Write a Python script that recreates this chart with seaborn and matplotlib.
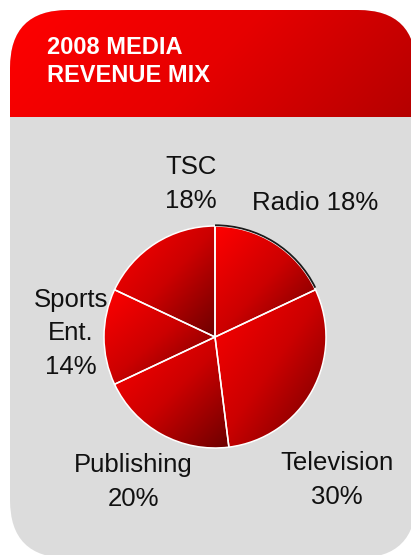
import numpy as np
import matplotlib
matplotlib.use("Agg")
import matplotlib.pyplot as plt
from matplotlib.patches import FancyBboxPatch, Arc
import seaborn as sns

# Revenue mix data (drawn clockwise from 12 o'clock)
segments = ["Radio", "Television", "Publishing", "Sports\nEnt.", "TSC"]
shares = [18, 30, 20, 14, 18]
label_formats = ["{name} {pct}%", "{name}\n{pct}%", "{name}\n{pct}%",
                 "{name}\n{pct}%", "{name}\n{pct}%"]
title = "2008 MEDIA\nREVENUE MIX"

sns.set_theme(style="white")
plt.rcParams["font.family"] = ["Liberation Sans", "DejaVu Sans"]

W, H = 411, 555
fig = plt.figure(figsize=(W / 100, H / 100), dpi=100)
fig.patch.set_facecolor("white")
ax = fig.add_axes([0, 0, 1, 1])

def py(y):
    """Convert a top-down pixel row to data y."""
    return H - y

# ---- card background -------------------------------------------------
card_x0, card_x1, card_top, card_bot = 10, 416, 10, 558
radius = 58
card = FancyBboxPatch((card_x0, py(card_bot)), card_x1 - card_x0, card_bot - card_top,
                      boxstyle=f"round,pad=0,rounding_size={radius}",
                      facecolor="#dcdcdc", edgecolor="none", zorder=0)
ax.add_patch(card)

header_bottom = 117
header_cmap = sns.blend_palette(["#ff0000", "#e60000", "#b40000"], as_cmap=True)
hx = np.linspace(0, 1, 300)
hy = np.linspace(0, 1, 80)
HX, HY = np.meshgrid(hx, hy)
hgrad = 0.8 * HX + 0.2 * HY
himg = ax.imshow(hgrad, cmap=header_cmap, origin="upper", aspect="auto",
                 extent=(card_x0, card_x1, py(header_bottom), py(card_top)),
                 interpolation="bilinear", zorder=1)
himg.set_clip_path(card)

ax.text(47, py(36), title, color="white", fontsize=17, fontweight="bold",
        ha="left", va="top", linespacing=1.3, zorder=5)

# ---- pie ---------------------------------------------------------------
center = (215, py(337))
r = 111
wedges, _ = ax.pie(shares, startangle=90, counterclock=False, center=center,
                   radius=r, colors=["none"] * len(shares),
                   wedgeprops=dict(edgecolor="white", linewidth=1.1))

slice_cmap = sns.blend_palette(["#ff0000", "#cc0000", "#6c0000"], as_cmap=True)
gx = np.linspace(0, 1, 200)
GX, GY = np.meshgrid(gx, gx)
sgrad = (GX + GY) / 2
for w in wedges:
    w.set_zorder(4)
    bb = w.get_path().get_extents()
    im = ax.imshow(sgrad, cmap=slice_cmap, origin="upper", aspect="auto",
                   extent=(bb.x0, bb.x1, bb.y0, bb.y1),
                   interpolation="bilinear", zorder=3)
    im.set_clip_path(w)

# dark rim along the first slice
first = wedges[0]
ax.add_patch(Arc(center, 2 * r + 1.5, 2 * r + 1.5, theta1=first.theta1 + 1,
                 theta2=first.theta2, color="#1a1a1a", lw=1.3, zorder=5))

# ---- labels ------------------------------------------------------------
label_pos = [(315, 203), (337, 480), (133, 482), (71, 333), (191, 184)]
for name, pct, fmt, (lx, ly) in zip(segments, shares, label_formats, label_pos):
    ax.text(lx, py(ly), fmt.format(name=name, pct=pct), fontsize=18.5,
            color="#111111", ha="center", va="center", linespacing=1.5, zorder=6)

ax.set_xlim(0, W)
ax.set_ylim(0, H)
ax.set_aspect("equal")
ax.axis("off")

fig.savefig("out.png", dpi=100, facecolor="white")
